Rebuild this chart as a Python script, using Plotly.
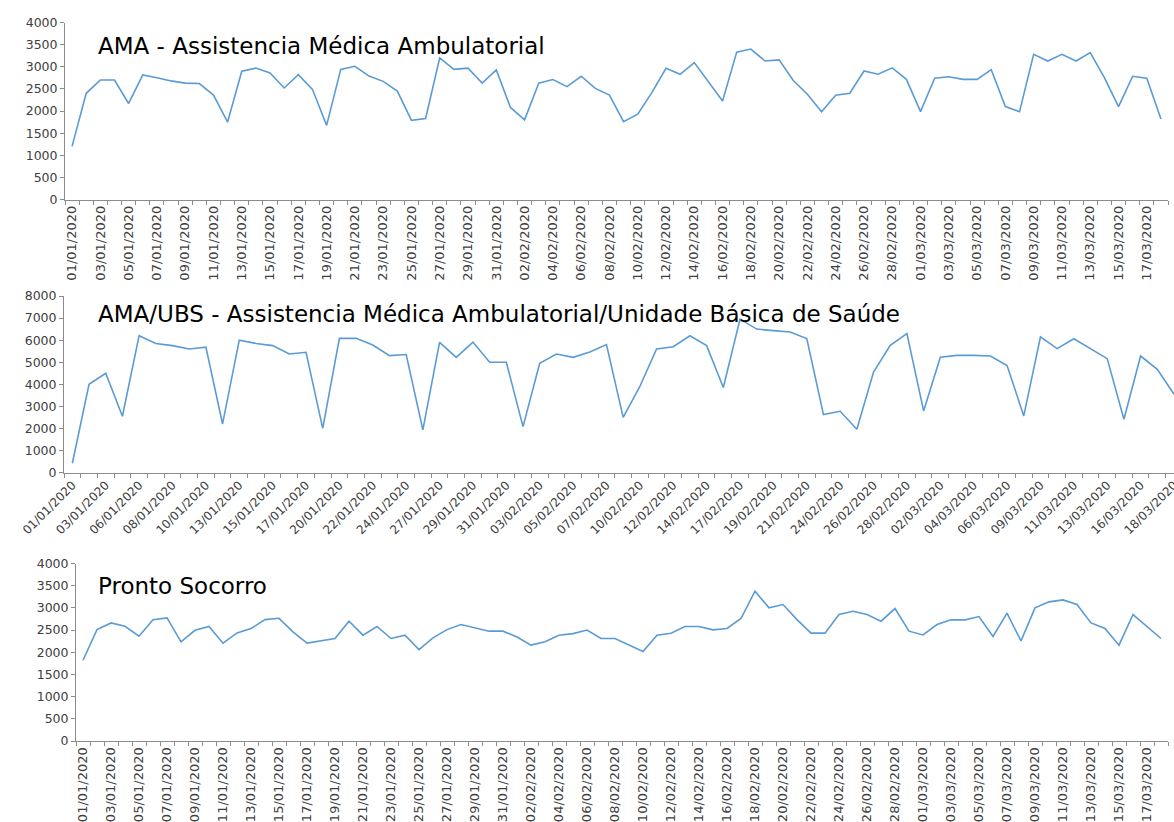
import pandas as pd
import plotly.graph_objects as go

# ---- categories ----
daily_dates = [d.strftime("%d/%m/%Y") for d in pd.date_range("2020-01-01", "2020-03-18", freq="D")]
monsat_dates = [d.strftime("%d/%m/%Y") for d in pd.date_range("2020-01-01", "2020-03-18", freq="D") if d.weekday() != 6]

# ---- series values ----
ama_values = [1200, 2400, 2700, 2700, 2170, 2815, 2750, 2680, 2630, 2620,
              2360, 1750, 2900, 2970, 2860, 2520, 2820, 2490, 1675, 2940,
              3010, 2790, 2670, 2450, 1790, 1830, 3200, 2940, 2970, 2630,
              2930, 2080, 1800, 2630, 2710, 2550, 2785, 2510, 2360, 1760,
              1930, 2415, 2965, 2830, 3095, 2665, 2225, 3330, 3400, 3130,
              3155, 2690, 2380, 1985, 2355, 2400, 2905, 2830, 2975, 2715,
              1985, 2740, 2775, 2715, 2715, 2935, 2100, 1985, 3280, 3130,
              3280, 3130, 3320, 2755, 2100, 2785, 2740, 1820]

ubs_values = [420, 4000, 4500, 2550, 6200, 5850, 5750, 5600, 5680, 2200,
              6000, 5850, 5750, 5370, 5450, 2000, 6080, 6080, 5780, 5300,
              5350, 1930, 5900, 5220, 5910, 5000, 5000, 2080, 4950, 5370,
              5220, 5460, 5800, 2500, 3900, 5600, 5700, 6200, 5750, 3850,
              6950, 6500, 6430, 6370, 6070, 2625, 2775, 1960, 4555, 5765,
              6300, 2790, 5220, 5310, 5310, 5280, 4850, 2565, 6150, 5615,
              6065, 5630, 5160, 2415, 5280, 4680, 3550]

ps_values = [1820, 2510, 2660, 2585, 2360, 2735, 2775, 2235, 2495, 2580,
             2205, 2435, 2535, 2735, 2765, 2460, 2205, 2250, 2310, 2700,
             2385, 2580, 2310, 2385, 2060, 2325, 2510, 2625, 2550, 2475,
             2475, 2345, 2160, 2235, 2385, 2420, 2500, 2310, 2310, 2160,
             2015, 2385, 2430, 2580, 2580, 2505, 2535, 2760, 3375, 3000,
             3075, 2735, 2430, 2430, 2850, 2925, 2850, 2700, 2985, 2475,
             2390, 2625, 2730, 2730, 2805, 2355, 2880, 2255, 3000, 3135,
             3180, 3075, 2660, 2535, 2160, 2850, 2585, 2310]

titles = ["AMA - Assistencia Médica Ambulatorial",
          "AMA/UBS - Assistencia Médica Ambulatorial/Unidade Básica de Saúde",
          "Pronto Socorro"]

W, H = 1174, 822
LINE = "#5B9BD5"
TXT = "#404040"
AX = "#8C8C8C"
FONT = "DejaVu Sans"

def px_x(x):
    return x / W

def px_y(y):
    return 1 - y / H

fig = go.Figure()
fig.add_trace(go.Scatter(x=daily_dates, y=ama_values, mode="lines",
                         line=dict(color=LINE, width=1.6), xaxis="x", yaxis="y"))
fig.add_trace(go.Scatter(x=monsat_dates, y=ubs_values, mode="lines",
                         line=dict(color=LINE, width=1.6), xaxis="x2", yaxis="y2"))
fig.add_trace(go.Scatter(x=daily_dates, y=ps_values, mode="lines",
                         line=dict(color=LINE, width=1.6), xaxis="x3", yaxis="y3"))

def xaxis(dates, domain, anchor, angle, size, rng):
    return dict(type="category", categoryorder="array", categoryarray=dates,
                domain=domain, anchor=anchor, range=rng, automargin=False,
                tickvals=dates,
                ticktext=[d if i % 2 == 0 else "" for i, d in enumerate(dates)],
                tickson="boundaries", ticks="outside", ticklen=4, tickcolor=AX,
                tickangle=angle, tickfont=dict(family=FONT, size=size, color=TXT),
                showline=True, linecolor=AX, linewidth=1, showgrid=False, zeroline=False)

def yaxis(domain, anchor, top, dt):
    return dict(domain=domain, anchor=anchor, range=[0, top], dtick=dt, tick0=0,
                automargin=False,
                ticks="outside", ticklen=4, tickcolor=AX,
                tickfont=dict(family=FONT, size=12.5, color=TXT),
                showline=True, linecolor=AX, linewidth=1, showgrid=False, zeroline=False)

fig.update_layout(
    width=W, height=H, margin=dict(l=0, r=0, t=0, b=0, autoexpand=False),
    paper_bgcolor="white", plot_bgcolor="white", showlegend=False,
    xaxis=xaxis(daily_dates, [px_x(65), px_x(1168)], "y", -90, 13, [-0.5, len(daily_dates) - 0.5]),
    yaxis=yaxis([px_y(199.5), px_y(22.5)], "x", 4000, 500),
    xaxis2=xaxis(monsat_dates, [px_x(64), 1.0], "y2", -45, 12, [-0.5, len(monsat_dates) - 1.0]),
    yaxis2=yaxis([px_y(472.5), px_y(296)], "x2", 8000, 1000),
    xaxis3=xaxis(daily_dates, [px_x(76), px_x(1168)], "y3", -90, 13, [-0.5, len(daily_dates) - 0.5]),
    yaxis3=yaxis([px_y(741), px_y(563.5)], "x3", 4000, 500),
)

for t, yc in zip(titles, [46, 314, 586]):
    fig.add_annotation(text=t, xref="paper", yref="paper", x=px_x(96), y=px_y(yc),
                       xanchor="left", yanchor="middle", showarrow=False,
                       font=dict(family="DejaVu Sans", size=23, color="#000000"))

fig.write_html("out.html", config={"displayModeBar": False},
               post_script="document.body.style.margin='0';document.body.style.padding='0';")
